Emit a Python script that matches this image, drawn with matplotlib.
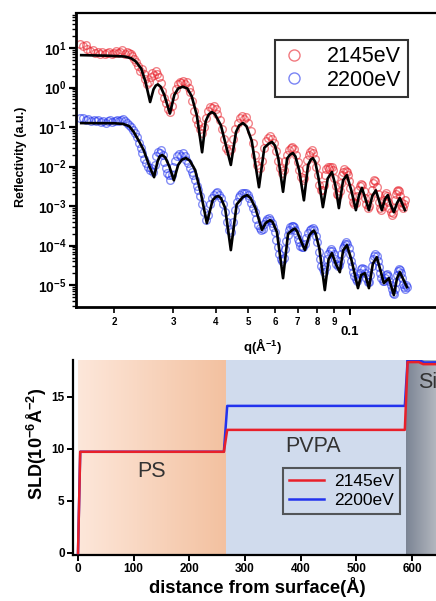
import numpy as np
import matplotlib
matplotlib.use("Agg")
import matplotlib.pyplot as plt
from matplotlib.ticker import LogLocator, FixedLocator, FuncFormatter, NullFormatter
from matplotlib.colors import to_rgb

plt.rcParams.update({
    "font.family": "Liberation Sans",
    "mathtext.fontset": "custom",
    "mathtext.rm": "Liberation Sans",
    "mathtext.bf": "Liberation Sans:bold",
    "mathtext.default": "regular",
})

RED = "#e8202a"
BLUE = "#2233ee"

# ── reflectivity: fit curves (q in 1/A, R in a.u.) ───────────────────────────
fit_red = [
    (0.0160, 6.6), (0.0190, 6.4), (0.0215, 6.1), (0.0225, 5.5), (0.0232, 4.6),
    (0.0241, 3.0), (0.0248, 1.4), (0.0256, 0.43), (0.0262, 0.9), (0.0266, 1.12),
    (0.0270, 1.2), (0.0275, 1.05), (0.0282, 0.65), (0.0293, 0.22), (0.0302, 0.65),
    (0.0310, 0.95), (0.0320, 1.05), (0.0330, 0.95), (0.0340, 0.6), (0.0352, 0.2),
    (0.0365, 0.023), (0.0374, 0.14), (0.0382, 0.21), (0.0390, 0.24), (0.0398, 0.215),
    (0.0415, 0.11), (0.0444, 0.011), (0.0460, 0.075), (0.0470, 0.11), (0.0482, 0.126),
    (0.0494, 0.105), (0.0512, 0.045), (0.0538, 0.003), (0.0558, 0.03), (0.0575, 0.038),
    (0.0588, 0.042), (0.0600, 0.034), (0.0614, 0.016), (0.0634, 0.0023), (0.0652, 0.016),
    (0.0665, 0.020), (0.0678, 0.022), (0.0690, 0.018), (0.0708, 0.008), (0.0731, 0.0014),
    (0.0752, 0.011), (0.0766, 0.015), (0.0777, 0.0164), (0.0790, 0.013), (0.0808, 0.005),
    (0.0832, 0.00094), (0.0860, 0.005), (0.0885, 0.0073), (0.0905, 0.0035), (0.0928, 0.00089),
    (0.0955, 0.0045), (0.0980, 0.0061), (0.1010, 0.0025), (0.1042, 0.00079), (0.1065, 0.0019),
    (0.1086, 0.0029), (0.1110, 0.0016), (0.1139, 0.00079), (0.1165, 0.0018), (0.1194, 0.0025),
    (0.1220, 0.0014), (0.1244, 0.00079), (0.1270, 0.0015), (0.1296, 0.0019), (0.1320, 0.0011),
    (0.1350, 0.0007), (0.1380, 0.0012), (0.1407, 0.0016), (0.1456, 0.00079),
]
fit_blue = [
    (0.0160, 0.126), (0.0200, 0.125), (0.0213, 0.12), (0.0222, 0.105), (0.0229, 0.075),
    (0.0238, 0.042), (0.0245, 0.026), (0.0255, 0.010), (0.0263, 0.0054), (0.0269, 0.013),
    (0.0273, 0.018), (0.0278, 0.0196), (0.0284, 0.017), (0.0292, 0.010), (0.0301, 0.0045),
    (0.0310, 0.011), (0.0318, 0.015), (0.0327, 0.0164), (0.0336, 0.014), (0.0348, 0.0082),
    (0.0362, 0.0021), (0.0377, 0.00037), (0.0392, 0.0014), (0.0400, 0.0017), (0.0407, 0.0018),
    (0.0415, 0.0016), (0.0427, 0.0009), (0.0444, 0.000077), (0.0462, 0.0011), (0.0482, 0.0017),
    (0.0496, 0.0019), (0.0508, 0.0016), (0.0525, 0.0009), (0.0549, 0.00025), (0.0564, 0.00038),
    (0.0572, 0.00041), (0.0580, 0.00044), (0.0590, 0.0004), (0.0608, 0.00022), (0.0634, 0.000015),
    (0.0656, 0.0002), (0.0676, 0.00025), (0.0688, 0.00027), (0.0698, 0.00023), (0.0714, 0.00014),
    (0.0736, 0.000077), (0.0758, 0.00018), (0.0772, 0.00022), (0.0782, 0.00024), (0.0792, 0.0002),
    (0.0812, 0.000085), (0.0843, 0.0000075), (0.0865, 0.000045), (0.0885, 0.0000646),
    (0.0908, 0.000035), (0.0934, 0.0000213), (0.0955, 0.000075), (0.0980, 0.000103),
    (0.1010, 0.000045), (0.1057, 0.0000084), (0.1080, 0.000018), (0.1108, 0.00002),
    (0.1139, 0.0000084), (0.1170, 0.000035), (0.1202, 0.000051), (0.1230, 0.000025),
    (0.1261, 0.0000112), (0.1305, 0.000015), (0.1350, 0.0000056), (0.1380, 0.000015),
    (0.1407, 0.0000213), (0.1476, 0.0000089),
]

# ── reflectivity: measured points ───────────────────────────────────────────
data_red = [
    (0.0159, 13.0), (0.0162, 11.5), (0.0165, 12.0), (0.0167, 9.5), (0.0170, 8.5),
    (0.0173, 9.0), (0.0176, 7.5), (0.0179, 8.0), (0.0182, 7.2), (0.0185, 7.9),
    (0.0188, 6.9), (0.0191, 7.6), (0.0194, 8.1), (0.0197, 7.0), (0.0200, 7.7),
    (0.0203, 8.4), (0.0206, 7.3), (0.0209, 7.8), (0.0212, 8.8), (0.0215, 7.2),
    (0.0218, 8.1), (0.0221, 7.4), (0.0224, 6.9), (0.0227, 6.2), (0.0230, 5.3),
    (0.0233, 4.4), (0.0236, 3.5), (0.0239, 2.6), (0.0242, 3.0), (0.0245, 2.2),
    (0.0248, 1.6), (0.0251, 1.2), (0.0254, 1.4), (0.0257, 1.9), (0.0260, 2.4),
    (0.0263, 2.1), (0.0266, 2.6), (0.0269, 2.2), (0.0272, 1.8), (0.0275, 1.3),
    (0.0278, 0.8), (0.0281, 0.55), (0.0285, 0.4), (0.0289, 0.28), (0.0293, 0.24),
    (0.0297, 0.35), (0.0301, 0.6), (0.0305, 0.9), (0.0309, 1.2), (0.0313, 1.4),
    (0.0317, 1.3), (0.0321, 1.45), (0.0325, 1.2), (0.0329, 1.35), (0.0333, 1.0),
    (0.0337, 0.75), (0.0341, 0.45), (0.0345, 0.25), (0.0350, 0.16), (0.0355, 0.12),
    (0.0360, 0.09), (0.0365, 0.07), (0.0370, 0.10), (0.0375, 0.17), (0.0380, 0.26),
    (0.0385, 0.32), (0.0390, 0.30), (0.0395, 0.34), (0.0400, 0.28), (0.0405, 0.22),
    (0.0411, 0.15), (0.0417, 0.09), (0.0423, 0.05), (0.0430, 0.03), (0.0437, 0.025),
    (0.0444, 0.028), (0.0451, 0.05), (0.0458, 0.09), (0.0465, 0.13), (0.0472, 0.17),
    (0.0479, 0.19), (0.0486, 0.16), (0.0493, 0.18), (0.0500, 0.13), (0.0508, 0.08),
    (0.0516, 0.04), (0.0524, 0.02), (0.0532, 0.011), (0.0540, 0.009), (0.0548, 0.014),
    (0.0556, 0.03), (0.0564, 0.045), (0.0572, 0.052), (0.0580, 0.06), (0.0588, 0.05),
    (0.0596, 0.04), (0.0604, 0.025), (0.0612, 0.014), (0.0620, 0.009), (0.0628, 0.007),
    (0.0636, 0.008), (0.0644, 0.014), (0.0652, 0.02), (0.0660, 0.026), (0.0668, 0.03),
    (0.0676, 0.032), (0.0684, 0.028), (0.0692, 0.02), (0.0700, 0.013), (0.0708, 0.008),
    (0.0716, 0.0055), (0.0724, 0.0045), (0.0732, 0.005), (0.0740, 0.009), (0.0748, 0.015),
    (0.0756, 0.02), (0.0764, 0.024), (0.0772, 0.026), (0.0780, 0.022), (0.0788, 0.016),
    (0.0796, 0.01), (0.0804, 0.006), (0.0812, 0.0035), (0.0820, 0.0026), (0.0828, 0.0025),
    (0.0836, 0.0035), (0.0844, 0.006), (0.0852, 0.0085), (0.0860, 0.0095), (0.0868, 0.0085),
    (0.0876, 0.0095), (0.0884, 0.010), (0.0892, 0.008), (0.0900, 0.005), (0.0908, 0.0032),
    (0.0916, 0.002), (0.0924, 0.0019), (0.0932, 0.0024), (0.0940, 0.0038), (0.0948, 0.006),
    (0.0956, 0.0075), (0.0964, 0.0085), (0.0972, 0.0078), (0.0980, 0.0072), (0.0988, 0.006),
    (0.0996, 0.0042), (0.1004, 0.0028), (0.1012, 0.0018), (0.1020, 0.0013), (0.1030, 0.0011),
    (0.1040, 0.0012), (0.1050, 0.0018), (0.1060, 0.0026), (0.1070, 0.0033), (0.1080, 0.0037),
    (0.1090, 0.0034), (0.1100, 0.0024), (0.1110, 0.0016), (0.1120, 0.0011), (0.1130, 0.0009),
    (0.1140, 0.001), (0.1150, 0.0016), (0.1160, 0.0026), (0.1170, 0.0038), (0.1180, 0.0045),
    (0.1190, 0.0042), (0.1200, 0.003), (0.1210, 0.002), (0.1220, 0.0013), (0.1230, 0.0009),
    (0.1240, 0.0008), (0.1250, 0.001), (0.1260, 0.0014), (0.1270, 0.0019), (0.1280, 0.0022),
    (0.1290, 0.0018), (0.1300, 0.0013), (0.1310, 0.0009), (0.1320, 0.0007), (0.1330, 0.0006),
    (0.1340, 0.00065), (0.1350, 0.0009), (0.1360, 0.0014), (0.1370, 0.002), (0.1380, 0.0024),
    (0.1390, 0.0026), (0.1400, 0.0024), (0.1410, 0.0018), (0.1420, 0.0013), (0.1430, 0.001),
    (0.1440, 0.0009), (0.1450, 0.0011), (0.1460, 0.0014),
]
data_blue = [
    (0.0159, 0.17), (0.0162, 0.165), (0.0165, 0.15), (0.0168, 0.16), (0.0171, 0.145),
    (0.0174, 0.155), (0.0177, 0.14), (0.0180, 0.15), (0.0183, 0.135), (0.0186, 0.145),
    (0.0189, 0.13), (0.0192, 0.14), (0.0195, 0.15), (0.0198, 0.135), (0.0201, 0.145),
    (0.0204, 0.155), (0.0207, 0.14), (0.0210, 0.15), (0.0213, 0.16), (0.0216, 0.14),
    (0.0219, 0.125), (0.0222, 0.11), (0.0225, 0.10), (0.0228, 0.085), (0.0231, 0.07),
    (0.0234, 0.055), (0.0237, 0.04), (0.0240, 0.03), (0.0243, 0.022), (0.0246, 0.016),
    (0.0249, 0.012), (0.0252, 0.0095), (0.0255, 0.008), (0.0258, 0.009), (0.0261, 0.0075),
    (0.0264, 0.011), (0.0267, 0.018), (0.0270, 0.024), (0.0273, 0.022), (0.0276, 0.026),
    (0.0279, 0.02), (0.0282, 0.013), (0.0285, 0.009), (0.0288, 0.007), (0.0291, 0.006),
    (0.0294, 0.0045), (0.0297, 0.006), (0.0300, 0.01), (0.0304, 0.014), (0.0308, 0.018),
    (0.0312, 0.021), (0.0316, 0.019), (0.0320, 0.022), (0.0324, 0.018), (0.0328, 0.015),
    (0.0332, 0.012), (0.0336, 0.009), (0.0340, 0.0075), (0.0344, 0.006), (0.0348, 0.0045),
    (0.0352, 0.0033), (0.0356, 0.0025), (0.0360, 0.0018), (0.0365, 0.0011), (0.0370, 0.0007),
    (0.0375, 0.00045), (0.0380, 0.0006), (0.0385, 0.0011), (0.0390, 0.0016), (0.0395, 0.0019),
    (0.0400, 0.0021), (0.0405, 0.0023), (0.0410, 0.0019), (0.0415, 0.0016), (0.0420, 0.0011),
    (0.0426, 0.0007), (0.0432, 0.0004), (0.0438, 0.00025), (0.0444, 0.00022), (0.0450, 0.0004),
    (0.0456, 0.0008), (0.0462, 0.0013), (0.0468, 0.0017), (0.0474, 0.0019), (0.0480, 0.0021),
    (0.0486, 0.0022), (0.0492, 0.0021), (0.0498, 0.0019), (0.0504, 0.0016), (0.0510, 0.0012),
    (0.0516, 0.0009), (0.0522, 0.0007), (0.0528, 0.00048), (0.0534, 0.00033), (0.0540, 0.00028),
    (0.0546, 0.00025), (0.0552, 0.00027), (0.0558, 0.00035), (0.0564, 0.00042), (0.0570, 0.00047),
    (0.0576, 0.00049), (0.0582, 0.00045), (0.0588, 0.00038), (0.0594, 0.0003), (0.0600, 0.00022),
    (0.0606, 0.00014), (0.0612, 9e-5), (0.0618, 6e-5), (0.0624, 4.5e-5), (0.0630, 4e-5),
    (0.0636, 5e-5), (0.0642, 8e-5), (0.0648, 0.00013), (0.0654, 0.00019), (0.0660, 0.00025),
    (0.0666, 0.0003), (0.0672, 0.00032), (0.0678, 0.00031), (0.0684, 0.00029), (0.0690, 0.00025),
    (0.0696, 0.0002), (0.0702, 0.00015), (0.0708, 0.00012), (0.0714, 0.0001), (0.0720, 9e-5),
    (0.0728, 9.5e-5), (0.0736, 0.00011), (0.0744, 0.00016), (0.0752, 0.00021), (0.0760, 0.00025),
    (0.0768, 0.00027), (0.0776, 0.00028), (0.0784, 0.00025), (0.0792, 0.00018), (0.0800, 0.00012),
    (0.0808, 7e-5), (0.0816, 4.5e-5), (0.0824, 3e-5), (0.0832, 2.5e-5), (0.0840, 2.2e-5),
    (0.0848, 2.8e-5), (0.0856, 4.5e-5), (0.0864, 6e-5), (0.0872, 7.5e-5), (0.0880, 8e-5),
    (0.0888, 7.5e-5), (0.0896, 6e-5), (0.0904, 4.5e-5), (0.0912, 3.5e-5), (0.0920, 3e-5),
    (0.0928, 3.2e-5), (0.0936, 4e-5), (0.0944, 6e-5), (0.0952, 8.5e-5), (0.0960, 0.0001),
    (0.0968, 0.00011), (0.0976, 0.00012), (0.0984, 0.00011), (0.0992, 8.5e-5), (0.1000, 6e-5),
    (0.1008, 4.2e-5), (0.1016, 3e-5), (0.1024, 2.2e-5), (0.1032, 1.7e-5), (0.1040, 1.4e-5),
    (0.1050, 1.3e-5), (0.1060, 1.5e-5), (0.1070, 2e-5), (0.1080, 2.5e-5), (0.1090, 2.7e-5),
    (0.1100, 2.5e-5), (0.1110, 2e-5), (0.1120, 1.5e-5), (0.1130, 1.2e-5), (0.1140, 1.2e-5),
    (0.1150, 1.8e-5), (0.1160, 3e-5), (0.1170, 4.5e-5), (0.1180, 5.5e-5), (0.1190, 6e-5),
    (0.1200, 5.5e-5), (0.1210, 4e-5), (0.1220, 2.8e-5), (0.1230, 2e-5), (0.1240, 1.5e-5),
    (0.1250, 1.3e-5), (0.1260, 1.3e-5), (0.1270, 1.5e-5), (0.1280, 1.8e-5), (0.1290, 1.9e-5),
    (0.1300, 1.7e-5), (0.1310, 1.3e-5), (0.1320, 1e-5), (0.1330, 8e-6), (0.1340, 6.5e-6),
    (0.1350, 6e-6), (0.1360, 8e-6), (0.1370, 1.2e-5), (0.1380, 1.8e-5), (0.1390, 2.3e-5),
    (0.1400, 2.5e-5), (0.1410, 2.4e-5), (0.1420, 2e-5), (0.1430, 1.5e-5), (0.1440, 1.1e-5),
    (0.1450, 9e-6), (0.1460, 8e-6), (0.1470, 1e-5), (0.1480, 9e-6),
]

# ── SLD profiles ────────────────────────────────────────────────────────────
z_red = [0, 4, 262, 268, 587, 592, 612, 620, 660]
sld_red = [0, 9.7, 9.7, 11.8, 11.8, 18.3, 18.3, 18.1, 18.1]
z_blue = [0, 4, 262, 268, 587, 592, 614, 622, 660]
sld_blue = [0, 9.7, 9.7, 14.1, 14.1, 18.45, 18.45, 18.25, 18.3]
layers = ["PS", "PVPA", "Si"]
layer_edges = [0, 265, 590, 660]


def gradient(c0, c1, n=200):
    a, b = np.array(to_rgb(c0)), np.array(to_rgb(c1))
    t = np.linspace(0, 1, n)[:, None]
    return (a + (b - a) * t)[None, :, :]


fig = plt.figure(figsize=(4.36, 6.01), dpi=100)

# ═══════════════ top: reflectivity ═══════════════
ax1 = fig.add_axes([0.1743, 0.4892, 0.8257, 0.4892])
for pts, col, lab in [(data_red, RED, "2145eV"), (data_blue, BLUE, "2200eV")]:
    q, r = np.array(pts).T
    ax1.plot(q, r, "o", ms=5.5, mfc="none", mec=col, mew=1.0, alpha=0.55, label=lab)
for pts in [fit_red, fit_blue]:
    q, r = np.array(pts).T
    ax1.plot(q, r, color="black", lw=1.9, zorder=5)

ax1.set_xscale("log")
ax1.set_yscale("log")
ax1.set_xlim(0.01544, 0.18)
ax1.set_ylim(2.8e-6, 77)
ax1.spines["right"].set_visible(False)
for s in ["left", "bottom"]:
    ax1.spines[s].set_linewidth(2)
ax1.spines["top"].set_linewidth(1.6)

ax1.yaxis.set_major_locator(LogLocator(base=10, numticks=20))
ax1.yaxis.set_minor_locator(LogLocator(base=10, subs=np.arange(2, 10), numticks=20))
ax1.yaxis.set_major_formatter(FuncFormatter(lambda v, p: r"$\mathbf{10^{%d}}$" % round(np.log10(v))))
ax1.yaxis.set_minor_formatter(NullFormatter())
ax1.xaxis.set_major_locator(FixedLocator([0.1]))
ax1.xaxis.set_minor_locator(FixedLocator([0.02, 0.03, 0.04, 0.05, 0.06, 0.07, 0.08, 0.09]))
ax1.xaxis.set_major_formatter(FuncFormatter(lambda v, p: "0.1"))
ax1.xaxis.set_minor_formatter(FuncFormatter(lambda v, p: "%d" % round(v * 100)))
ax1.tick_params(axis="y", which="major", direction="out", length=5, width=1.6, labelsize=10, pad=2)
ax1.tick_params(axis="y", which="minor", direction="out", length=3, width=1.0)
ax1.tick_params(axis="x", which="major", direction="out", length=6, width=1.4, labelsize=9.5, pad=8)
ax1.tick_params(axis="x", which="minor", direction="out", length=4, width=1.2, labelsize=7, pad=3)
for t in ax1.get_xticklabels(which="both"):
    t.set_fontweight("bold")

ax1.set_ylabel("Reflectivity (a.u.)", fontsize=9, fontweight="bold")
ax1.yaxis.set_label_coords(-0.135, 0.51)
fig.text(262 / 436, 1 - 346 / 601, r"q(Å$^{\mathbf{-1}}$)", fontsize=9.5, fontweight="bold",
         ha="center", va="center")

leg1 = ax1.legend(loc="upper left", bbox_to_anchor=(0.553, 0.908), borderaxespad=0,
                  fontsize=15.5, markerscale=1.45, frameon=True, fancybox=False,
                  edgecolor="black", handlelength=1.2, handletextpad=0.9, borderpad=0.3,
                  labelspacing=0.1)
leg1.get_frame().set_linewidth(1.5)
for h in leg1.legend_handles:
    h.set_alpha(0.6)

# ═══════════════ bottom: SLD profile ═══════════════
ax2 = fig.add_axes([0.1674, 0.0765, 0.8326, 0.3245])
ylo, yhi = -0.2, 18.5
ax2.imshow(gradient("#fde7da", "#f3c1a0"), extent=(layer_edges[0], layer_edges[1], ylo, yhi),
           aspect="auto", zorder=0)
ax2.axvspan(layer_edges[1], layer_edges[2], color="#d0dbed", lw=0, zorder=0)
ax2.imshow(gradient("#7b8494", "#c4c7cc"), extent=(layer_edges[2], layer_edges[3], ylo, yhi),
           aspect="auto", zorder=0)

ax2.plot(z_blue, sld_blue, color=BLUE, lw=1.8, label="2200eV", zorder=3)
ax2.plot(z_red, sld_red, color=RED, lw=1.8, label="2145eV", zorder=4)

ax2.set_xlim(-9, 643)
ax2.set_ylim(ylo, yhi)
for s in ["top", "right"]:
    ax2.spines[s].set_visible(False)
for s in ["left", "bottom"]:
    ax2.spines[s].set_linewidth(1.6)
ax2.set_xticks([0, 100, 200, 300, 400, 500, 600])
ax2.set_yticks([0, 5, 10, 15])
ax2.tick_params(direction="out", length=4, width=1.4, labelsize=8.5, pad=2)
for t in ax2.get_xticklabels() + ax2.get_yticklabels():
    t.set_fontweight("bold")

ax2.set_ylabel(r"SLD(10$^{\mathbf{-6}}$Å$^{\mathbf{-2}}$)", fontsize=13, fontweight="bold")
ax2.yaxis.set_label_coords(-0.065, 0.57)
ax2.set_xlabel("distance from surface(Å)", fontsize=13.2, fontweight="bold")
ax2.xaxis.set_label_coords(0.507, -0.115)

for name, x, y in zip(layers, [133, 422, 628], [7.8, 10.2, 16.3]):
    ax2.text(x, y, name, fontsize=15.5, color="#333333", ha="center", va="center", clip_on=False)

h, l = ax2.get_legend_handles_labels()
leg2 = ax2.legend(h[::-1], l[::-1], loc="upper left", bbox_to_anchor=(0.579, 0.446),
                  borderaxespad=0, fontsize=12.5, frameon=True, fancybox=False,
                  edgecolor="#333333", facecolor="none", handlelength=2.0, handletextpad=0.6,
                  borderpad=0.35, labelspacing=0.2)
leg2.get_frame().set_linewidth(1.5)

fig.savefig("out.png", dpi=100)
